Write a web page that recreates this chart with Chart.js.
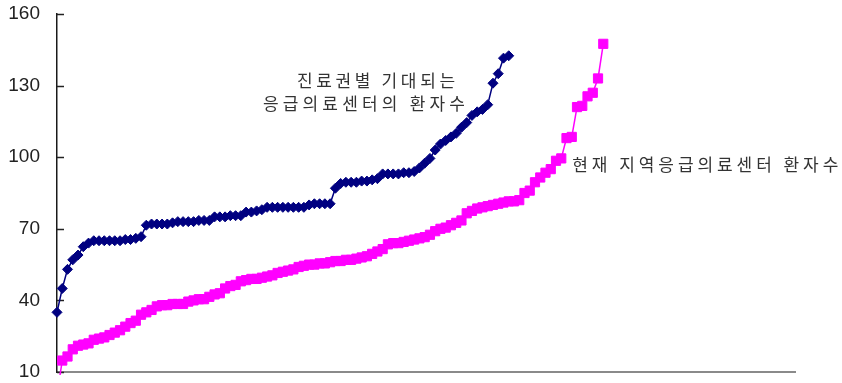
<!DOCTYPE html>
<html>
<head>
<meta charset="utf-8">
<script src="https://cdn.jsdelivr.net/npm/chart.js@4/dist/chart.umd.min.js"></script>
<style>
  html, body { margin: 0; padding: 0; background: #ffffff; }
  #wrap { width: 842px; height: 383px; }
</style>
</head>
<body>
<div id="wrap"><canvas id="chart" width="842" height="383"></canvas></div>
<script>
// Y axis tick values
const yTicks = [10, 40, 70, 100, 130, 160];

// 진료권별 기대되는 응급의료센터의 환자수 (sorted ascending)
const expectedPatients = [
  35, 45, 53, 57, 59, 62.5, 64, 65, 65, 65, 65, 65, 65, 65.5, 65.5, 66, 66.7,
  71.5, 72, 72, 72, 72, 72.5, 73, 73, 73, 73, 73.5, 73.5, 73.5, 75, 75, 75,
  75.5, 75.5, 75.5, 77, 77, 77.5, 78, 79, 79, 79, 79, 79, 79, 79, 79, 80,
  80.5, 80.5, 80.5, 80.5, 87, 89, 89.5, 89.5, 89.5, 90, 90, 90.5, 91, 93, 93,
  93, 93, 93.5, 93.5, 94, 95.5, 97.5, 99.5, 103, 105.5, 107, 108.5, 110,
  112.5, 114.5, 117.5, 119, 120, 122, 131, 135, 141.5, 142.5
];

// 현재 지역응급의료센터 환자수 (sorted ascending)
const currentPatients = [
  0.5, 14.8, 16.5, 19.5, 21, 21.5, 22, 23.5, 24, 24.5,
  25.5, 26.5, 27.5, 29, 30.5, 31.5, 34, 35, 36, 37.5,
  38, 38, 38.5, 38.5, 38.5, 39.5, 40, 40.5, 40.5, 41.5,
  42.5, 43, 45, 46, 46.5, 48, 48.5, 49, 49, 49.5,
  50, 50.5, 51.5, 52, 52.5, 53, 54, 54.5, 55, 55,
  55.5, 55.5, 56, 56.5, 56.5, 57, 57, 57.5, 58, 58.5,
  59.5, 60.5, 61.5, 63.5, 64, 64, 64.5, 65, 65.5, 66,
  66.5, 67.5, 69, 70, 70.5, 71.5, 72.5, 73.5, 76.5, 77.5,
  78.5, 79, 79.5, 80, 80.5, 81, 81.5, 81.5, 82, 85,
  86, 89.5, 91.5, 93.5, 95, 98.5, 99.5, 108, 108.5, 121,
  121.5, 125.5, 127, 133, 147.5
];

// Series captions drawn next to the curves
const expectedCaption = ['진료권별 기대되는', '응급의료센터의 환자수'];
const currentCaption = ['현재 지역응급의료센터 환자수'];

const toPoints = values => values.map((v, i) => ({ x: i, y: v }));

// Short tick marks drawn on the inner side of the y axis
const innerTicks = {
  id: 'innerTicks',
  beforeDatasetsDraw(chart, args, opts) {
    const { ctx, chartArea, scales: { y } } = chart;
    ctx.save();
    ctx.strokeStyle = opts.color;
    ctx.lineWidth = opts.width;
    y.ticks.forEach(t => {
      const py = Math.round(y.getPixelForValue(t.value)) + 0.5;
      ctx.beginPath();
      ctx.moveTo(chartArea.left, py);
      ctx.lineTo(chartArea.left + opts.length, py);
      ctx.stroke();
    });
    ctx.restore();
  }
};

// Captions placed in data coordinates, spread to a given line width
const captions = {
  id: 'captions',
  afterDatasetsDraw(chart, args, opts) {
    const { ctx, scales: { x, y } } = chart;
    ctx.save();
    ctx.font = opts.font;
    ctx.fillStyle = opts.color;
    ctx.textBaseline = 'middle';
    ctx.textAlign = 'left';
    opts.items.forEach(item => {
      let px = x.getPixelForValue(item.x);
      const py = y.getPixelForValue(item.y);
      const chars = Array.from(item.text);
      const widths = chars.map(c => ctx.measureText(c).width);
      const natural = widths.reduce((a, b) => a + b, 0);
      const gap = chars.length > 1 ? (item.width - natural) / (chars.length - 1) : 0;
      chars.forEach((c, i) => {
        ctx.fillText(c, px, py);
        px += widths[i] + gap;
      });
    });
    ctx.restore();
  }
};

new Chart(document.getElementById('chart'), {
  type: 'scatter',
  data: {
    datasets: [
      {
        label: expectedCaption.join(' '),
        data: toPoints(expectedPatients),
        showLine: true,
        borderColor: '#000080',
        backgroundColor: '#000080',
        borderWidth: 1.5,
        pointStyle: 'rectRot',
        pointRadius: 5,
        pointBorderWidth: 1,
        pointBorderColor: '#000080',
        pointBackgroundColor: '#000080',
        clip: { left: 8, top: 8, right: 8, bottom: 3 }
      },
      {
        label: currentCaption.join(' '),
        data: toPoints(currentPatients),
        showLine: true,
        borderColor: '#ff00ff',
        backgroundColor: '#ff00ff',
        borderWidth: 1.5,
        pointStyle: 'rect',
        pointRadius: 6.5,
        pointBorderWidth: 1,
        pointBorderColor: '#ff00ff',
        pointBackgroundColor: '#ff00ff',
        clip: { left: 8, top: 8, right: 8, bottom: 3 }
      }
    ]
  },
  options: {
    responsive: false,
    animation: false,
    devicePixelRatio: 1,
    layout: { autoPadding: false, padding: { top: 14, right: 47, left: 0, bottom: 0 } },
    plugins: {
      legend: { display: false },
      tooltip: { enabled: false },
      innerTicks: { color: '#222222', width: 1.5, length: 7 },
      captions: {
        font: '17px "Noto Sans CJK KR"',
        color: '#333333',
        items: [
          { text: expectedCaption[0], x: 45.7, y: 132.3, width: 158 },
          { text: expectedCaption[1], x: 39.2, y: 122.3, width: 202 },
          { text: currentCaption[0], x: 98.1, y: 97.0, width: 266 }
        ]
      }
    },
    scales: {
      x: {
        type: 'linear',
        min: 0,
        max: 140.5,
        grid: { display: true, drawOnChartArea: false, drawTicks: false },
        border: { display: true, color: '#8a8a8a', width: 2 },
        ticks: { display: false },
        afterFit(scale) {
          scale.height = 11;
          scale.paddingLeft = 0;
          scale.paddingRight = 0;
        }
      },
      y: {
        min: 10,
        max: 160,
        afterBuildTicks(scale) { scale.ticks = yTicks.map(v => ({ value: v })); },
        grid: { display: true, drawOnChartArea: false, drawTicks: false },
        border: { display: true, color: '#1a1a1a', width: 1.5 },
        ticks: {
          padding: 17,
          color: '#222222',
          font: { family: '"Liberation Sans", Arial, sans-serif', size: 19 }
        },
        afterFit(scale) {
          scale.width = 57;
          // labels may overhang the plot area; keep them out of the layout
          scale.paddingTop = 0;
          scale.paddingBottom = 0;
        }
      }
    }
  },
  plugins: [innerTicks, captions]
});
</script>
</body>
</html>
